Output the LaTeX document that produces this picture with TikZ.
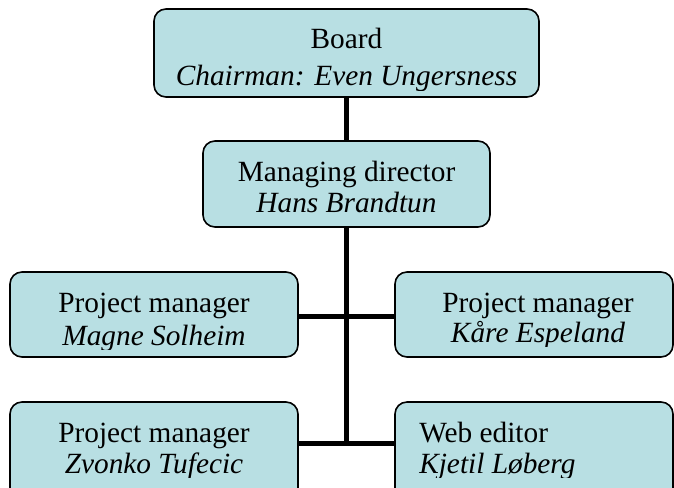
\documentclass[tikz,border=0pt]{standalone}
\usepackage{fontspec}
\setmainfont{Liberation Serif}
\definecolor{boxfill}{RGB}{184,223,227}
\begin{document}
\begin{tikzpicture}[x=0.75pt,y=-0.75pt,
  orgbox/.style={draw=black, line width=1.2pt, fill=boxfill, rounded corners=9pt, inner sep=0pt},
  link/.style={line width=3.75pt, black},
  lbl/.style={anchor=base, inner sep=0pt, font=\fontsize{22}{26}\selectfont},
  lbll/.style={lbl, anchor=base west}]
\useasboundingbox (0,0) rectangle (674,487);
\clip (0,0) rectangle (674,487);

% boxes
\node[orgbox, minimum width=288.75pt, minimum height=66pt] (board) at (346.5,53) {};
\node[orgbox, minimum width=215.25pt, minimum height=64.5pt] (md) at (346.5,184) {};
\node[orgbox, minimum width=216pt, minimum height=63.75pt] (pm1) at (154,314.5) {};
\node[orgbox, minimum width=208.5pt, minimum height=63.75pt] (pm2) at (534,314.5) {};
\node[orgbox, minimum width=216pt, minimum height=75pt] (pm3) at (154,452) {};
\node[orgbox, minimum width=208.5pt, minimum height=75pt] (web) at (534,452) {};

% junction points on the vertical trunk
\coordinate (j1) at (346.5,316);
\coordinate (j2) at (346.5,443);

% connectors
\draw[link] (board.south) -- (md.north);
\draw[link] (md.south) -- (j2);
\draw[link] (pm1.east |- j1) -- (pm2.west |- j1);
\draw[link] (pm3.east |- j2) -- (web.west |- j2);

% labels, cut off at the lower edge of each text frame
\begin{scope}
  \clip (154,9) rectangle (539,90);
  \node[lbl] (t1) at (346.5,48) {Board};
  \node[lbl] (t2) at (346.5,85) {\itshape Chairman: Even Ungersness};
\end{scope}
\node[lbl] (t3) at (346.5,181) {Managing director};
\node[lbl] (t4) at (346.5,212) {\itshape Hans Brandtun};
\begin{scope}
  \clip (0,272) rectangle (300,349);
  \node[lbl] (t5) at (154,312) {Project manager};
  \node[lbl] (t6) at (154,345) {\itshape Magne Solheim};
\end{scope}
\begin{scope}
  \clip (395,272) rectangle (674,346);
  \node[lbl] (t7) at (538,312) {Project manager};
  \node[lbl] (t8) at (538,342) {\itshape Kåre Espeland};
\end{scope}
\begin{scope}
  \clip (0,402) rectangle (674,477);
  \node[lbl] (t9) at (154,442) {Project manager};
  \node[lbl] (t10) at (154,473) {\itshape Zvonko Tufecic};
  \node[lbll] (t11) at (419,442) {Web editor};
  \node[lbll] (t12) at (419,473) {\itshape Kjetil Løberg};
\end{scope}
\end{tikzpicture}
\end{document}
